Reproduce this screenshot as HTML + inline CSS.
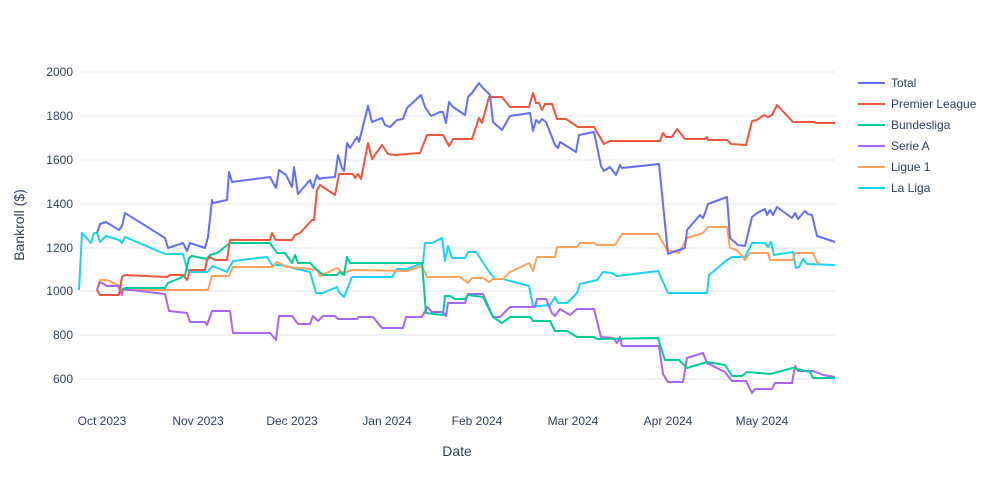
<!DOCTYPE html>
<html><head><meta charset="utf-8"><style>
body{margin:0;background:#fff;}
svg{display:block;font-family:"Liberation Sans",sans-serif;}
.t{font-size:12px;fill:#2a3f5f;}
polyline{fill:none;stroke-width:2;stroke-linejoin:round;}
</style></head><body>
<svg width="1000" height="500" viewBox="0 0 1000 500">
<g stroke="#e5e6ee" stroke-width="1">
<line x1="80" x2="835" y1="72" y2="72"/><line x1="80" x2="835" y1="116" y2="116"/>
<line x1="80" x2="835" y1="160" y2="160"/><line x1="80" x2="835" y1="204" y2="204"/>
<line x1="80" x2="835" y1="248" y2="248"/><line x1="80" x2="835" y1="291" y2="291"/>
<line x1="80" x2="835" y1="335" y2="335"/><line x1="80" x2="835" y1="379" y2="379"/>
</g>
<g class="t" text-anchor="end">
<text x="73" y="76">2000</text><text x="73" y="120">1800</text><text x="73" y="164">1600</text>
<text x="73" y="208">1400</text><text x="73" y="252">1200</text><text x="73" y="295">1000</text>
<text x="73" y="339">800</text><text x="73" y="383">600</text>
</g>
<g class="t" text-anchor="middle">
<text x="102" y="425">Oct 2023</text><text x="198" y="425">Nov 2023</text><text x="292" y="425">Dec 2023</text>
<text x="387" y="425">Jan 2024</text><text x="477" y="425">Feb 2024</text><text x="573" y="425">Mar 2024</text>
<text x="668" y="425">Apr 2024</text><text x="762" y="425">May 2024</text>
</g>
<text x="457" y="456" text-anchor="middle" style="font-size:14px;fill:#2a3f5f">Date</text>
<text transform="translate(24,225) rotate(-90)" text-anchor="middle" style="font-size:14px;fill:#2a3f5f">Bankroll ($)</text>

<polyline stroke="#19d3f3" points="79,290 82,233 91,243 94,233 97,233 100,242 106,236 119,240 122,243 125,237 165,254 183,254 187,269 190,272 207,272 213,266 227,272 233,261 267,257 272,265 280,265 290,267 297,269 310,272 316,293 323,293 337,287 339,292 344,297 352,277 392,277 397,269 407,269 423,263 425,243 432,243 442,238 445,261 448,246 452,258 465,258 468,252 476,252 490,273 495,279 503,279 529,286 533,306 540,306 550,305 555,297 558,303 567,303 577,293 580,284 597,280 603,272 612,273 617,276 658,271 668,293 707,293 709,275 727,260 732,257 745,257 752,243 765,243 768,247 771,242 774,255 793,252 796,268 799,267 803,259 807,264 835,265"/>
<polyline stroke="#ffa15a" points="97,290 100,280 107,280 120,286 122,290 208,290 212,276 229,276 233,267 272,267 277,262 287,267 300,268 317,270 320,276 337,268 343,273 352,270 407,271 422,266 427,277 460,277 468,283 472,278 483,278 489,282 493,279 503,279 510,272 529,263 533,271 537,257 555,257 557,247 577,247 580,243 594,243 597,245 615,245 622,234 658,234 667,250 679,253 687,238 703,233 708,227 727,227 730,248 737,250 745,260 750,253 768,253 770,260 793,260 795,253 813,253 817,262 820,264"/>
<polyline stroke="#ab63fa" points="97,290 100,282 107,286 118,286 122,295 123,289 165,294 169,311 187,313 190,322 205,322 207,325 212,311 230,311 233,333 270,333 276,340 279,316 292,316 298,324 310,324 313,316 318,321 323,316 335,316 338,319 357,319 359,317 373,317 382,328 403,328 406,317 422,317 427,307 432,312 443,312 446,316 448,303 465,303 468,294 483,294 493,317 500,317 510,307 535,307 537,299 546,299 552,313 555,316 560,309 570,315 577,309 594,309 601,337 613,338 617,343 620,337 622,346 659,346 663,374 668,382 683,382 687,358 703,353 707,363 725,372 732,381 746,381 752,393 755,389 772,389 775,383 792,383 795,366 798,371 813,371 823,375 835,377"/>
<polyline stroke="#00cc96" points="122,290 125,288 165,288 168,283 180,278 185,275 189,258 192,256 207,259 210,255 217,253 230,243 270,243 277,253 285,253 292,263 295,255 298,263 310,263 315,268 323,275 337,275 340,272 344,275 347,257 350,263 422,263 426,313 443,315 445,296 450,296 455,299 465,299 468,295 483,297 493,317 502,323 510,317 530,317 533,321 550,321 555,331 567,331 577,337 594,337 597,339 658,338 665,360 679,360 687,368 707,362 725,365 732,376 742,376 747,372 770,374 793,368 810,372 813,378 835,378"/>
<polyline stroke="#ef553b" points="97,290 100,295 119,295 122,277 125,275 167,277 170,275 183,275 187,280 190,270 205,270 207,260 210,257 215,260 227,260 230,240 270,240 272,233 276,240 292,240 295,235 300,233 312,220 314,220 317,190 320,185 335,195 339,174 353,174 355,178 358,174 361,179 368,143 372,159 382,145 388,154 395,155 420,153 427,135 443,135 449,146 453,139 472,139 479,118 482,123 489,97 502,97 510,107 529,107 533,93 536,103 539,103 542,110 545,104 552,104 557,119 566,119 578,127 594,127 604,144 610,141 660,141 663,133 666,137 672,137 677,129 685,139 705,139 707,137 708,140 727,140 731,144 746,145 752,121 757,120 764,115 768,117 772,115 777,105 793,122 814,122 817,123 835,123"/>
<polyline stroke="#636efa" points="97,233 100,224 106,222 119,230 122,226 125,213 165,238 168,248 183,243 187,251 190,243 205,248 208,237 212,200 213,203 227,200 229,172 232,182 270,177 276,188 279,170 286,175 292,187 294,167 298,194 310,180 313,188 317,175 319,179 323,178 335,177 338,155 342,168 344,171 347,143 350,148 357,137 359,142 368,106 372,122 382,118 385,125 390,127 397,120 403,119 407,108 421,95 425,107 431,116 440,112 443,112 446,123 449,102 453,107 465,115 468,97 472,93 479,83 483,88 490,95 493,122 502,130 510,116 530,113 533,131 536,120 539,123 542,119 546,122 555,145 558,148 560,142 576,152 579,135 594,132 601,166 604,171 610,167 616,175 620,165 622,168 659,164 668,254 673,252 685,248 687,230 700,215 703,218 705,213 708,204 727,197 730,238 738,245 745,246 752,217 757,213 765,209 767,215 770,210 773,215 777,207 792,218 795,213 798,219 805,211 808,214 812,215 817,236 835,242"/>

<g class="t">
<line x1="858" x2="885" y1="83" y2="83" stroke="#636efa" stroke-width="2"/><text x="891" y="87">Total</text>
<line x1="858" x2="885" y1="104" y2="104" stroke="#ef553b" stroke-width="2"/><text x="891" y="108">Premier League</text>
<line x1="858" x2="885" y1="125" y2="125" stroke="#00cc96" stroke-width="2"/><text x="891" y="129">Bundesliga</text>
<line x1="858" x2="885" y1="146" y2="146" stroke="#ab63fa" stroke-width="2"/><text x="891" y="150">Serie A</text>
<line x1="858" x2="885" y1="167" y2="167" stroke="#ffa15a" stroke-width="2"/><text x="891" y="171">Ligue 1</text>
<line x1="858" x2="885" y1="188" y2="188" stroke="#19d3f3" stroke-width="2"/><text x="891" y="192">La Liga</text>
</g>
</svg>
</body></html>
